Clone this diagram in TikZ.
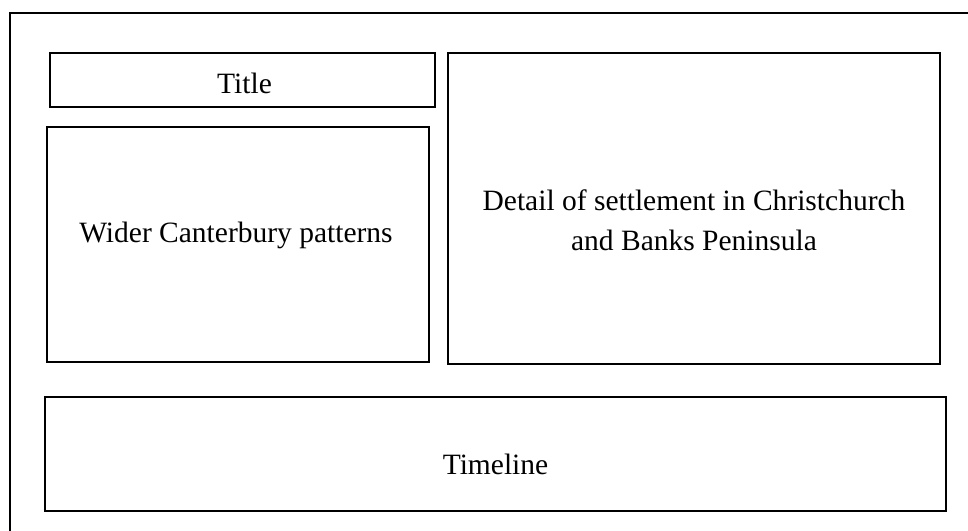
\documentclass[tikz,border=0pt]{standalone}
\usepackage{fontspec}
\setmainfont{Liberation Serif}
\begin{document}
\begin{tikzpicture}[x=1pt,y=-1pt,
  panel/.style={draw=black,line width=1.6pt,inner sep=0pt},
  lbl/.style={font=\fontsize{29.5}{40}\selectfont,align=center}]
\useasboundingbox (0,0) rectangle (968,530);
\draw[line width=1.8pt] (10,545) -- (10,13) -- (980,13);
\draw[panel] (50,53) rectangle (435,107);
\node[lbl] (title) at (244.5,83) {Title};
\draw[panel] (47,127) rectangle (429,362);
\node[lbl] (wider) at (236,235) {Wider Canterbury patterns};
\draw[panel] (448,53) rectangle (940,364);
\node[lbl] (detail) at (694,220) {Detail of settlement in Christchurch\\and Banks Peninsula};
\draw[panel] (45,397) rectangle (946,511);
\node[lbl] (timeline) at (495.5,464) {Timeline};
\end{tikzpicture}
\end{document}
